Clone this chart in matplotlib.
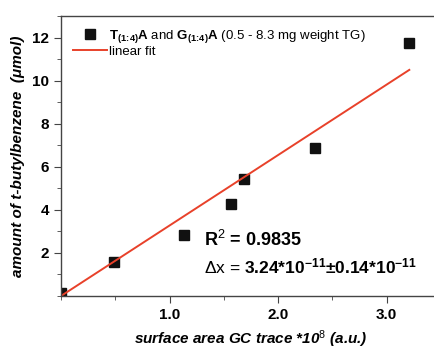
import numpy as np
import matplotlib
matplotlib.use("Agg")
import matplotlib.pyplot as plt
from matplotlib.ticker import MultipleLocator

plt.rcParams['font.family'] = ['Liberation Sans', 'DejaVu Sans']
plt.rcParams['mathtext.fontset'] = 'custom'
plt.rcParams['mathtext.rm'] = 'Liberation Sans'
plt.rcParams['mathtext.it'] = 'Liberation Sans:italic'
plt.rcParams['mathtext.bf'] = 'Liberation Sans:bold'

# data
area = [0.0, 0.49, 1.13, 1.57, 1.69, 2.34, 3.21]       # *10^8 a.u.
amount = [0.15, 1.58, 2.84, 4.28, 5.44, 6.88, 11.77]   # umol
fit_x = [0.0, 3.21]
fit_y = [0.0, 10.5]

fig = plt.figure(figsize=(4.34, 3.49), dpi=100)
ax = fig.add_axes([0.1406, 0.152, 0.875, 0.802])

ax.plot(area, amount, 's', color='#111111', markersize=6.5,
        label=r"$\mathbf{T_{(1\!:\!4)}A}$ and $\mathbf{G_{(1\!:\!4)}A}$ (0.5 - 8.3 mg weight TG)")
ax.plot(fit_x, fit_y, color='#e8412a', lw=1.4, label='linear fit')

ax.set_xlim(0, 3.5)
ax.set_ylim(0, 13)
ax.xaxis.set_minor_locator(MultipleLocator(0.5))
ax.yaxis.set_minor_locator(MultipleLocator(1))
ax.set_xticks([1.0, 2.0, 3.0])
ax.set_xticklabels(['1.0', '2.0', '3.0'])
ax.set_yticks([2, 4, 6, 8, 10, 12])
ax.tick_params(which='both', direction='out', color='#444444', top=False, right=False)
ax.tick_params(which='major', length=5, labelsize=11)
ax.tick_params(which='minor', length=3)
for lab in ax.get_xticklabels() + ax.get_yticklabels():
    lab.set_fontweight('bold')
for s in ax.spines.values():
    s.set_color('#444444')
    s.set_linewidth(1.0)

ax.set_xlabel(r"surface area GC trace *10$^{8}$ (a.u.)", fontsize=11,
              fontweight='bold', style='italic', labelpad=5)
ax.set_ylabel("amount of t-butylbenzene  (μmol)", fontsize=11,
              fontweight='bold', style='italic', labelpad=5)

ax.legend(loc='upper left', bbox_to_anchor=(0.0, 1.0), frameon=False,
          fontsize=9.5, handlelength=2.6, handletextpad=0.1,
          labelspacing=0.05, borderpad=0.4)

ax.text(1.32, 2.3, r"R$^{2}$ = 0.9835", fontsize=13, fontweight='bold')
ax.text(1.32, 1.05, r"$\Delta$x = $\mathbf{3.24{*}10^{-11}{\pm}0.14{*}10^{-11}}$",
        fontsize=12.5)

fig.savefig("out.png", dpi=100)
